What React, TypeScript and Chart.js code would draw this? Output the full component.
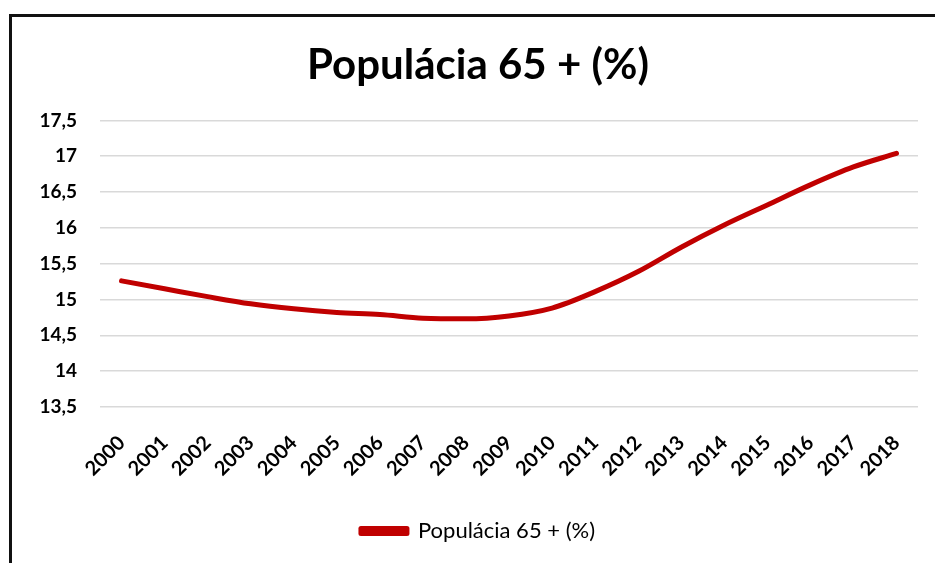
import React, { useEffect, useRef } from "react";
import { Chart, registerables } from "chart.js";

Chart.register(...registerables);

const years = ["2000", "2001", "2002", "2003", "2004", "2005", "2006", "2007", "2008", "2009", "2010", "2011", "2012", "2013", "2014", "2015", "2016", "2017", "2018"];
const seriesLabel = "Populácia 65 + (%)";
const seriesValues = [15.26, 15.15, 15.04, 14.94, 14.87, 14.82, 14.79, 14.74, 14.73, 14.77, 14.88, 15.11, 15.39, 15.73, 16.04, 16.32, 16.6, 16.85, 17.04];
const titleText = "Populácia 65 + (%)";
const yMin = 13.5;
const yMax = 17.5;
const yStep = 0.5;

const FONT = "Lato, 'Open Sans', 'DejaVu Sans', sans-serif";

export default function App() {
  const canvasRef = useRef<HTMLCanvasElement | null>(null);

  useEffect(() => {
    let chart: Chart | null = null;
    let cancelled = false;
    const make = () => {
      if (cancelled || !canvasRef.current) return;
      chart = new Chart(canvasRef.current, {
        type: "line",
        data: {
          labels: years,
          datasets: [
            {
              label: seriesLabel,
              data: seriesValues,
              borderColor: "#C00000",
              backgroundColor: "#C00000",
              borderWidth: 5,
              borderCapStyle: "round",
              borderJoinStyle: "round",
              pointRadius: 0,
              pointHoverRadius: 0,
              cubicInterpolationMode: "monotone",
              fill: false,
            },
          ],
        },
        options: {
          responsive: false,
          animation: false,
          devicePixelRatio: 1,
          layout: { padding: { left: 38, right: 17, top: 0, bottom: 11 } },
          plugins: {
            title: {
              display: true,
              text: titleText,
              color: "#000",
              font: { family: FONT, size: 42, weight: "bold" },
              padding: { top: 40, bottom: 30 },
            },
            legend: {
              display: true,
              position: "bottom",
              labels: {
                color: "#000",
                font: { family: FONT, size: 22 },
                boxWidth: 46,
                boxHeight: 5,
                padding: 10,
              },
            },
            tooltip: { enabled: false },
          },
          scales: {
            x: {
              offset: true,
              grid: { display: false, drawTicks: false },
              border: { display: false },
              ticks: {
                color: "#000",
                font: { family: FONT, size: 20, weight: "bold" },
                minRotation: 45,
                maxRotation: 45,
                padding: 24,
                autoSkip: false,
              },
              afterFit: (scale: any) => {
                scale.height = 103;
                scale.paddingLeft = 0;
                scale.paddingRight = 0;
              },
            },
            y: {
              min: yMin,
              max: yMax,
              grid: { color: "#d9d9d9", lineWidth: 1.5, drawTicks: false },
              border: { display: false },
              ticks: {
                stepSize: yStep,
                color: "#000",
                font: { family: FONT, size: 19, weight: "bold" },
                padding: 23,
                callback: (v: any) => String(v).replace(".", ","),
              },
              afterFit: (scale: any) => {
                scale.width = 62;
              },
            },
          },
        },
      });
    };
    const fontsApi = (document as any).fonts;
    if (fontsApi && fontsApi.load) {
      Promise.all([
        fontsApi.load("bold 42px Lato"),
        fontsApi.load("22px Lato"),
        fontsApi.load("bold 20px Lato"),
      ])
        .catch(() => {})
        .then(make);
    } else {
      make();
    }
    return () => {
      cancelled = true;
      if (chart) chart.destroy();
    };
  }, []);

  return (
    <div
      style={{
        position: "fixed",
        left: 0,
        top: 0,
        width: 935,
        height: 563,
        overflow: "hidden",
        background: "#fff",
      }}
    >
      <canvas ref={canvasRef} width={935} height={563} style={{ position: "absolute", left: 0, top: 0 }} />
      <div
        style={{
          position: "absolute",
          left: 9,
          top: 14,
          width: 2000,
          height: 2000,
          borderLeft: "3px solid #111",
          borderTop: "3px solid #111",
          pointerEvents: "none",
        }}
      />
    </div>
  );
}
